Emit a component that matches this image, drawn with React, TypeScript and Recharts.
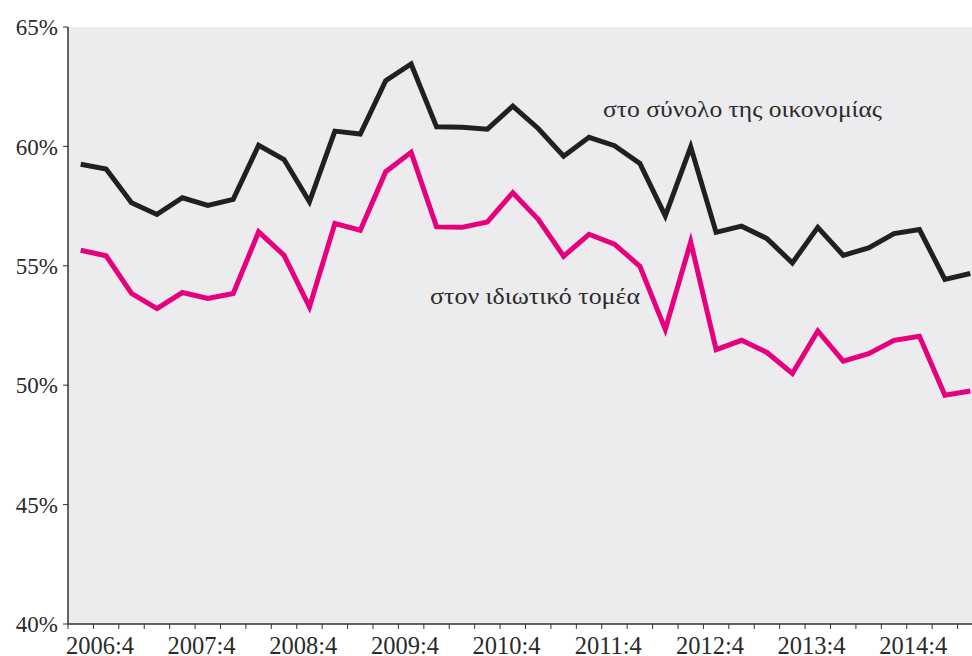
import React from "react";
import { LineChart, Line, XAxis, YAxis, CartesianGrid } from "recharts";

const quarters = [
  "2006:4", "2007:1", "2007:2", "2007:3", "2007:4", "2008:1", "2008:2", "2008:3",
  "2008:4", "2009:1", "2009:2", "2009:3", "2009:4", "2010:1", "2010:2", "2010:3",
  "2010:4", "2011:1", "2011:2", "2011:3", "2011:4", "2012:1", "2012:2", "2012:3",
  "2012:4", "2013:1", "2013:2", "2013:3", "2013:4", "2014:1", "2014:2", "2014:3",
  "2014:4", "2015:1", "2015:2", "2015:3",
];

const totalEconomy = [
  59.25, 59.05, 57.64, 57.15, 57.85, 57.53, 57.78, 60.05, 59.45, 57.68,
  60.64, 60.52, 62.75, 63.45, 60.82, 60.80, 60.72, 61.69, 60.75, 59.59,
  60.38, 60.03, 59.29, 57.09, 59.98, 56.40, 56.66, 56.14, 55.12, 56.61,
  55.44, 55.75, 56.35, 56.52, 54.43, 54.68,
];

const privateSector = [
  55.65, 55.42, 53.84, 53.21, 53.88, 53.63, 53.84, 56.42, 55.44, 53.28,
  56.77, 56.49, 58.94, 59.75, 56.63, 56.61, 56.84, 58.06, 56.95, 55.40,
  56.32, 55.91, 54.98, 52.34, 56.00, 51.49, 51.88, 51.37, 50.49, 52.27,
  51.01, 51.32, 51.88, 52.05, 49.58, 49.76,
];

const yTicks = [40, 45, 50, 55, 60, 65];
const labelTotal = "στο σύνολο της οικονομίας";
const labelPrivate = "στον ιδιωτικό τομέα";

const data = quarters.map((q, i) => ({
  x: i + 0.5,
  q,
  total: totalEconomy[i],
  priv: privateSector[i],
}));

const xTicks = Array.from({ length: quarters.length + 1 }, (_, k) => k);

const FONT = "'Liberation Serif', 'DejaVu Serif', serif";
const TEXT = "#2b2b2b";

const XTick = (props: any) => {
  const { x, y, payload } = props;
  const k = payload.value as number;
  const showLabel = k % 4 === 1 && k - 1 < quarters.length;
  return (
    <g>
      <line x1={x} y1={y} x2={x} y2={y + 5} stroke="#333" strokeWidth={1} />
      {showLabel && (
        <text
          x={x + 6.5}
          y={y + 29.5}
          textAnchor="middle"
          fill={TEXT}
          fontSize={24.5}
          fontFamily={FONT}
        >
          {quarters[k - 1]}
        </text>
      )}
    </g>
  );
};

export default function App() {
  return (
    <div
      style={{
        position: "fixed",
        left: 0,
        top: 0,
        width: 972,
        height: 656,
        overflow: "hidden",
        background: "#fff",
      }}
    >
      <LineChart
        width={990}
        height={656}
        data={data}
        margin={{ top: 27, right: 7, left: 0, bottom: 0 }}
      >
        <CartesianGrid fill="#ECECEE" horizontal={false} vertical={false} stroke="none" />
        <XAxis
          type="number"
          dataKey="x"
          domain={[0, quarters.length]}
          ticks={xTicks}
          interval={0}
          tickLine={false}
          tickSize={0}
          tickMargin={0}
          height={32}
          axisLine={{ stroke: "#333", strokeWidth: 1.5 }}
          tick={<XTick />}
          allowDataOverflow
        />
        <YAxis
          type="number"
          domain={[40, 65]}
          ticks={yTicks}
          interval={0}
          width={68}
          tickSize={5}
          tickMargin={5}
          tickFormatter={(v: number) => `${v}%`}
          axisLine={{ stroke: "#333", strokeWidth: 1.5 }}
          tickLine={{ stroke: "#333" }}
          tick={{ fill: TEXT, fontSize: 23, fontFamily: FONT }}
          allowDataOverflow
        />
        <Line
          type="linear"
          dataKey="total"
          stroke="#231F20"
          strokeWidth={5}
          dot={false}
          strokeLinejoin="miter"
          isAnimationActive={false}
        />
        <Line
          type="linear"
          dataKey="priv"
          stroke="#E6007E"
          strokeWidth={5}
          dot={false}
          strokeLinejoin="miter"
          isAnimationActive={false}
        />
      </LineChart>
      <svg
        width={972}
        height={656}
        style={{ position: "absolute", left: 0, top: 0, pointerEvents: "none" }}
      >
        <text
          x={603}
          y={117}
          fill={TEXT}
          fontSize={23}
          fontFamily={FONT}
          textLength={279}
          lengthAdjust="spacingAndGlyphs"
        >
          {labelTotal}
        </text>
        <text
          x={430}
          y={304}
          fill={TEXT}
          fontSize={23}
          fontFamily={FONT}
          textLength={210}
          lengthAdjust="spacingAndGlyphs"
        >
          {labelPrivate}
        </text>
      </svg>
    </div>
  );
}
